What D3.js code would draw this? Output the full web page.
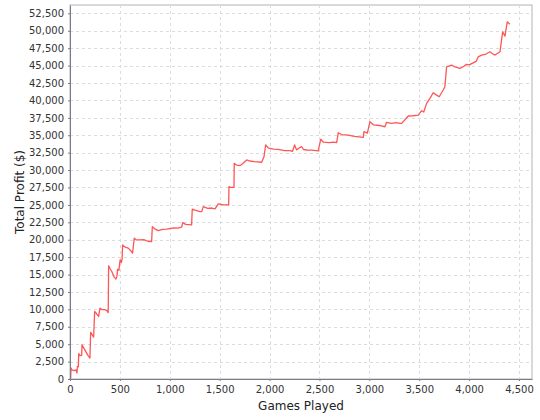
<!DOCTYPE html>
<html>
<head>
<meta charset="utf-8">
<script src="https://cdn.jsdelivr.net/npm/d3@7"></script>
<style>
  body { margin: 0; background: #fff; }
  svg { display: block; font-family: "DejaVu Sans", sans-serif; }
</style>
</head>
<body>
<div id="chart"></div>
<script>
// games played / cumulative profit
var games = [0, 7, 10, 20, 40, 60, 70, 74, 84, 87, 95, 100, 117, 120, 140, 160, 180, 200,
  207, 225, 237, 247, 265, 287, 300, 320, 350, 370, 383, 387, 400, 420, 440, 453, 460, 470,
  477, 490, 502, 515, 522, 527, 545, 560, 583, 605, 627, 644, 660, 700, 740, 780, 818, 825,
  845, 885, 930, 968, 1000, 1040, 1080, 1119, 1129, 1160, 1219, 1225, 1260, 1303, 1320, 1336,
  1380, 1420, 1453, 1486, 1540, 1590, 1593, 1610, 1643, 1646, 1670, 1703, 1730, 1770, 1800,
  1850, 1921, 1944, 1961, 1990, 2040, 2087, 2150, 2204, 2230, 2251, 2270, 2300, 2322, 2340,
  2372, 2420, 2488, 2512, 2540, 2600, 2640, 2672, 2689, 2720, 2789, 2850, 2939, 2946, 2980,
  3006, 3040, 3100, 3156, 3173, 3220, 3270, 3307, 3324, 3390, 3440, 3490, 3524, 3545, 3574,
  3607, 3640, 3670, 3700, 3740, 3757, 3774, 3824, 3860, 3907, 3940, 3974, 4000, 4041, 4070,
  4091, 4125, 4160, 4208, 4235, 4259, 4309, 4336, 4359, 4382, 4409];

var profit = [0, 140, 1580, 1300, 1190, 1300, 860, 1800, 1750, 3630, 3500, 3340, 3400, 4920,
  4400, 3900, 3400, 3010, 6680, 6300, 6020, 9690, 9400, 8980, 10180, 9950, 9950, 9800, 9550,
  16250, 15900, 15400, 14700, 14480, 14340, 14700, 15780, 15600, 17100, 16720, 17200, 19260,
  19000, 18900, 18790, 18500, 18070, 20220, 20000, 19980, 20000, 19780, 19730, 21880, 21600,
  21310, 21480, 21510, 21600, 21700, 21650, 21800, 22460, 22200, 22130, 24380, 24200, 24030,
  24030, 24750, 24500, 24550, 24420, 25140, 25000, 25000, 27620, 27500, 27500, 30970, 30700,
  30630, 30900, 31450, 31300, 31200, 31120, 31920, 33600, 33150, 33000, 32980, 32800, 32780,
  32700, 33600, 32900, 33200, 33360, 32950, 32880, 32850, 32740, 34420, 34000, 33950, 34000,
  33930, 35360, 35100, 35030, 34850, 34700, 35510, 35300, 36940, 36500, 36400, 36220, 36850,
  36700, 36800, 36710, 36710, 37760, 37800, 37900, 38520, 38330, 39580, 40300, 41100, 40800,
  40530, 41490, 41960, 44830, 45070, 44800, 44600, 44830, 45170, 45100, 45400, 45600, 46260,
  46510, 46600, 46980, 46700, 46510, 46980, 49850, 49230, 51280, 50950];

var xTicks = [0, 500, 1000, 1500, 2000, 2500, 3000, 3500, 4000, 4500];
var yTicks = [0, 2500, 5000, 7500, 10000, 12500, 15000, 17500, 20000, 22500, 25000, 27500,
  30000, 32500, 35000, 37500, 40000, 42500, 45000, 47500, 50000, 52500];

var width = 540, height = 420;
var margin = {top: 5, right: 8, bottom: 41, left: 70};
var plotW = width - margin.left - margin.right,
    plotH = height - margin.top - margin.bottom;

var data = games.map(function (g, i) { return {g: g, p: profit[i]}; });

var svg = d3.select("#chart").append("svg")
    .attr("width", width)
    .attr("height", height);

var x = d3.scaleLinear().domain([0, 4630]).range([0, plotW]);
var y = d3.scaleLinear().domain([0, 53700]).range([plotH, 0]);

var g = svg.append("g").attr("transform", "translate(" + margin.left + "," + margin.top + ")");

// plot background + border
g.append("rect")
    .attr("width", plotW).attr("height", plotH)
    .attr("fill", "#fff").attr("stroke", "#b4b4b4");

// gridlines
g.append("g").selectAll("line").data(xTicks).join("line")
    .attr("x1", function (d) { return Math.round(x(d)) + 0.5; })
    .attr("x2", function (d) { return Math.round(x(d)) + 0.5; })
    .attr("y1", 0).attr("y2", plotH)
    .attr("stroke", "#dcdcdc").attr("stroke-dasharray", "3,3");

g.append("g").selectAll("line").data(yTicks).join("line")
    .attr("y1", function (d) { return Math.round(y(d)) + 0.5; })
    .attr("y2", function (d) { return Math.round(y(d)) + 0.5; })
    .attr("x1", 0).attr("x2", plotW)
    .attr("stroke", "#dcdcdc").attr("stroke-dasharray", "3,3");

// series
var line = d3.line()
    .x(function (d) { return x(d.g); })
    .y(function (d) { return y(d.p); });

g.append("path")
    .datum(data)
    .attr("d", line)
    .attr("fill", "none")
    .attr("stroke", "#ff5555")
    .attr("stroke-width", 1.3)
    .attr("stroke-linejoin", "round");

// axes
var xAxis = g.append("g")
    .attr("transform", "translate(0," + plotH + ")")
    .call(d3.axisBottom(x).tickValues(xTicks).tickFormat(d3.format(","))
      .tickSize(2).tickPadding(5).tickSizeOuter(0));

var yAxis = g.append("g")
    .call(d3.axisLeft(y).tickValues(yTicks).tickFormat(d3.format(","))
      .tickSize(2).tickPadding(4).tickSizeOuter(0));

[xAxis, yAxis].forEach(function (a) {
  a.select(".domain").attr("stroke", "#7a7a88");
  a.selectAll(".tick line").attr("stroke", "#7a7a88");
  a.selectAll(".tick text").attr("fill", "#333").style("font-size", "10px")
    .style("font-family", "'DejaVu Sans', sans-serif");
});

// axis titles
svg.append("text")
    .attr("x", margin.left + plotW / 2)
    .attr("y", 410)
    .attr("text-anchor", "middle")
    .attr("fill", "#222")
    .style("font-size", "12px")
    .text("Games Played");

svg.append("text")
    .attr("transform", "translate(24," + (margin.top + plotH / 2) + ") rotate(-90)")
    .attr("text-anchor", "middle")
    .attr("fill", "#222")
    .style("font-size", "12px")
    .text("Total Profit ($)");
</script>
</body>
</html>
